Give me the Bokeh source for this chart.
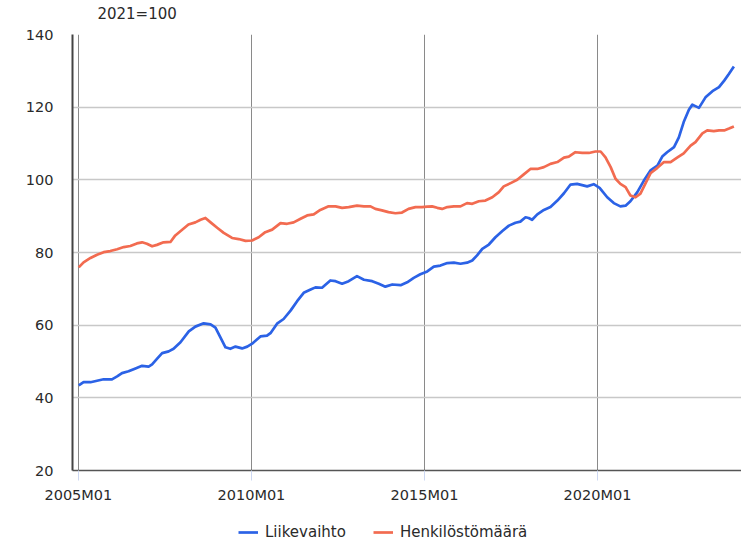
from bokeh.plotting import figure
from bokeh.models import FixedTicker, Range1d, Label, Legend, LegendItem
from bokeh.layouts import column
from bokeh.embed import file_html
from bokeh.resources import INLINE

# ---- data ----
liike_t = [2005.01, 2005.15, 2005.35, 2005.54, 2005.73, 2005.97, 2006.12, 2006.26, 2006.45, 2006.65,
           2006.84, 2007.03, 2007.13, 2007.27, 2007.42, 2007.61, 2007.75, 2007.95, 2008.19, 2008.38,
           2008.62, 2008.82, 2008.96, 2009.10, 2009.25, 2009.39, 2009.54, 2009.73, 2009.88, 2010.02,
           2010.26, 2010.45, 2010.55, 2010.74, 2010.93, 2011.13, 2011.32, 2011.51, 2011.71, 2011.85,
           2012.04, 2012.28, 2012.43, 2012.62, 2012.81, 2013.05, 2013.25, 2013.49, 2013.68, 2013.87,
           2014.07, 2014.31, 2014.50, 2014.69, 2014.88, 2015.08, 2015.27, 2015.46, 2015.66, 2015.85,
           2016.04, 2016.23, 2016.38, 2016.52, 2016.67, 2016.86, 2017.05, 2017.25, 2017.44, 2017.63,
           2017.77, 2017.92, 2018.01, 2018.11, 2018.26, 2018.45, 2018.64, 2018.84, 2019.03, 2019.22,
           2019.41, 2019.70, 2019.89, 2020.06, 2020.28, 2020.47, 2020.66, 2020.81, 2020.95, 2021.15,
           2021.34, 2021.53, 2021.73, 2021.87, 2022.01, 2022.21, 2022.35, 2022.49, 2022.64, 2022.74,
           2022.93, 2023.12, 2023.32, 2023.51, 2023.66, 2023.80, 2023.94]
liike_v = [43.4, 44.3, 44.3, 44.7, 45.1, 45.1, 45.9, 46.8, 47.3, 48.1,
           48.8, 48.6, 49.2, 50.7, 52.3, 52.8, 53.5, 55.3, 58.3, 59.6,
           60.5, 60.2, 59.3, 56.7, 53.9, 53.5, 54.1, 53.6, 54.1, 54.9,
           56.9, 57.1, 57.8, 60.4, 61.7, 64.0, 66.6, 68.9, 69.8, 70.4,
           70.3, 72.3, 72.1, 71.4, 72.1, 73.5, 72.5, 72.1, 71.4, 70.6,
           71.2, 71.0, 71.8, 73.0, 74.0, 74.8, 76.1, 76.4, 77.1, 77.2,
           76.9, 77.2, 77.8, 79.2, 81.0, 82.2, 84.2, 85.9, 87.4, 88.2,
           88.5, 89.7, 89.5, 89.0, 90.5, 91.7, 92.5, 94.3, 96.3, 98.7,
           98.9, 98.2, 98.8, 97.8, 95.2, 93.6, 92.7, 92.9, 94.1, 96.6,
           99.8, 102.6, 103.9, 106.4, 107.6, 109.0, 111.7, 115.9, 119.3, 120.7,
           119.8, 122.7, 124.4, 125.5, 127.3, 129.2, 131.2]

henk_t = [2005.01, 2005.15, 2005.35, 2005.54, 2005.73, 2005.92, 2006.12, 2006.31, 2006.50, 2006.69,
          2006.84, 2006.98, 2007.13, 2007.27, 2007.46, 2007.66, 2007.80, 2007.99, 2008.18, 2008.38,
          2008.53, 2008.67, 2008.82, 2009.01, 2009.20, 2009.44, 2009.63, 2009.83, 2010.02, 2010.21,
          2010.40, 2010.60, 2010.84, 2011.03, 2011.22, 2011.42, 2011.61, 2011.80, 2011.99, 2012.23,
          2012.43, 2012.62, 2012.81, 2013.05, 2013.25, 2013.44, 2013.58, 2013.77, 2013.96, 2014.16,
          2014.35, 2014.54, 2014.74, 2014.93, 2015.08, 2015.22, 2015.37, 2015.51, 2015.66, 2015.85,
          2016.04, 2016.23, 2016.38, 2016.57, 2016.76, 2016.96, 2017.15, 2017.29, 2017.49, 2017.68,
          2017.87, 2018.06, 2018.26, 2018.45, 2018.64, 2018.84, 2019.03, 2019.17, 2019.36, 2019.56,
          2019.75, 2019.94, 2020.09, 2020.23, 2020.38, 2020.52, 2020.66, 2020.81, 2020.95, 2021.10,
          2021.24, 2021.39, 2021.53, 2021.73, 2021.92, 2022.11, 2022.30, 2022.49, 2022.69, 2022.83,
          2023.03, 2023.17, 2023.36, 2023.51, 2023.66, 2023.80, 2023.94]
henk_v = [75.9, 77.3, 78.5, 79.4, 80.1, 80.4, 80.9, 81.5, 81.8, 82.5,
          82.8, 82.4, 81.7, 82.1, 82.8, 82.9, 84.7, 86.2, 87.7, 88.3,
          89.0, 89.5, 88.3, 86.8, 85.4, 84.0, 83.7, 83.2, 83.3, 84.2,
          85.6, 86.3, 88.1, 87.9, 88.3, 89.3, 90.2, 90.5, 91.7, 92.7,
          92.7, 92.3, 92.5, 92.9, 92.7, 92.7, 92.0, 91.6, 91.1, 90.8,
          91.0, 92.0, 92.5, 92.5, 92.6, 92.7, 92.3, 92.0, 92.5, 92.7,
          92.7, 93.6, 93.4, 94.1, 94.3, 95.2, 96.6, 98.2, 99.1, 100.0,
          101.5, 103.0, 103.0, 103.5, 104.4, 104.9, 106.1, 106.4, 107.6, 107.4,
          107.4, 107.8, 107.8, 106.2, 103.5, 100.3, 98.9, 98.0, 95.7, 95.2,
          96.2, 99.1, 101.8, 103.3, 104.9, 104.9, 106.1, 107.3, 109.4, 110.4,
          112.8, 113.6, 113.4, 113.6, 113.6, 114.1, 114.7]

x_ticks = [2005, 2010, 2015, 2020]
x_tick_labels = ["2005M01", "2010M01", "2015M01", "2020M01"]
y_ticks = [20, 40, 60, 80, 100, 120, 140]
series_names = ["Liikevaihto", "Henkilöstömäärä"]
unit_text = "2021=100"

BLUE = "#2b62e6"
RED = "#f26b50"
FONT = "DejaVu Sans"
TXT = "#2a2a2a"
X_START, X_END = 2004.83, 2024.16


def bare_strip(h):
    f = figure(width=741, height=h, output_backend="svg", toolbar_location=None,
               x_axis_location=None, y_axis_location=None,
               min_border_left=72, min_border_right=0, min_border_top=0, min_border_bottom=0,
               x_range=Range1d(X_START, X_END), y_range=Range1d(0, 1))
    f.outline_line_color = None
    f.xgrid.visible = False
    f.ygrid.visible = False
    return f


# ---- top strip with the unit text ----
top = bare_strip(25)
top.add_layout(Label(x=2005.55, y=0.48, text=unit_text, text_font=FONT, text_font_size="15px",
                     text_color=TXT, text_align="left", text_baseline="middle"))

# ---- main chart ----
p = figure(width=741, height=487, output_backend="svg", toolbar_location=None,
           x_range=Range1d(X_START, X_END), y_range=Range1d(20, 140),
           min_border_left=72, min_border_right=0, min_border_top=9, min_border_bottom=42)
p.outline_line_color = None
p.background_fill_color = "white"

p.ygrid.ticker = FixedTicker(ticks=y_ticks)
p.ygrid.grid_line_color = "#c8c8c8"
p.ygrid.grid_line_width = 1.5
p.xgrid.ticker = FixedTicker(ticks=x_ticks)
p.xgrid.grid_line_color = "#8a8a8a"
p.xgrid.grid_line_width = 1

ya = p.yaxis[0]
ya.ticker = FixedTicker(ticks=y_ticks)
ya.axis_line_color = "#444444"
ya.axis_line_width = 2
ya.major_tick_out = 0
ya.major_tick_in = 0
ya.minor_tick_out = 0
ya.minor_tick_in = 0
ya.major_label_standoff = 19
ya.major_label_text_font = FONT
ya.major_label_text_font_size = "14.5px"
ya.major_label_text_color = TXT

xa = p.xaxis[0]
xa.ticker = FixedTicker(ticks=x_ticks)
xa.major_label_overrides = {t: l for t, l in zip(x_ticks, x_tick_labels)}
xa.axis_line_color = "#555555"
xa.axis_line_width = 1.5
xa.major_tick_out = 10
xa.major_tick_in = 0
xa.major_tick_line_color = "#cdd8f2"
xa.minor_tick_out = 0
xa.minor_tick_in = 0
xa.major_label_standoff = 6
xa.major_label_text_font = FONT
xa.major_label_text_font_size = "14.5px"
xa.major_label_text_color = TXT

r1 = p.line(liike_t, liike_v, line_color=BLUE, line_width=2.7, line_join="round")
r2 = p.line(henk_t, henk_v, line_color=RED, line_width=2.7, line_join="round")

# ---- legend strip ----
lg = bare_strip(30)
lr1 = lg.line([X_START, X_END], [-5, -5], line_color=BLUE, line_width=2.7)
lr2 = lg.line([X_START, X_END], [-5, -5], line_color=RED, line_width=2.7)
legend = Legend(items=[LegendItem(label=series_names[0], renderers=[lr1]),
                       LegendItem(label=series_names[1], renderers=[lr2])],
                orientation="horizontal", location=(166, 0),
                padding=0, margin=0, spacing=27, label_standoff=7,
                glyph_width=20, glyph_height=20,
                label_text_font=FONT, label_text_font_size="15px", label_text_color=TXT,
                border_line_color=None, background_fill_alpha=0)
lg.add_layout(legend, "center")

open("out.html", "w").write(file_html(column(top, p, lg, spacing=0), INLINE))
